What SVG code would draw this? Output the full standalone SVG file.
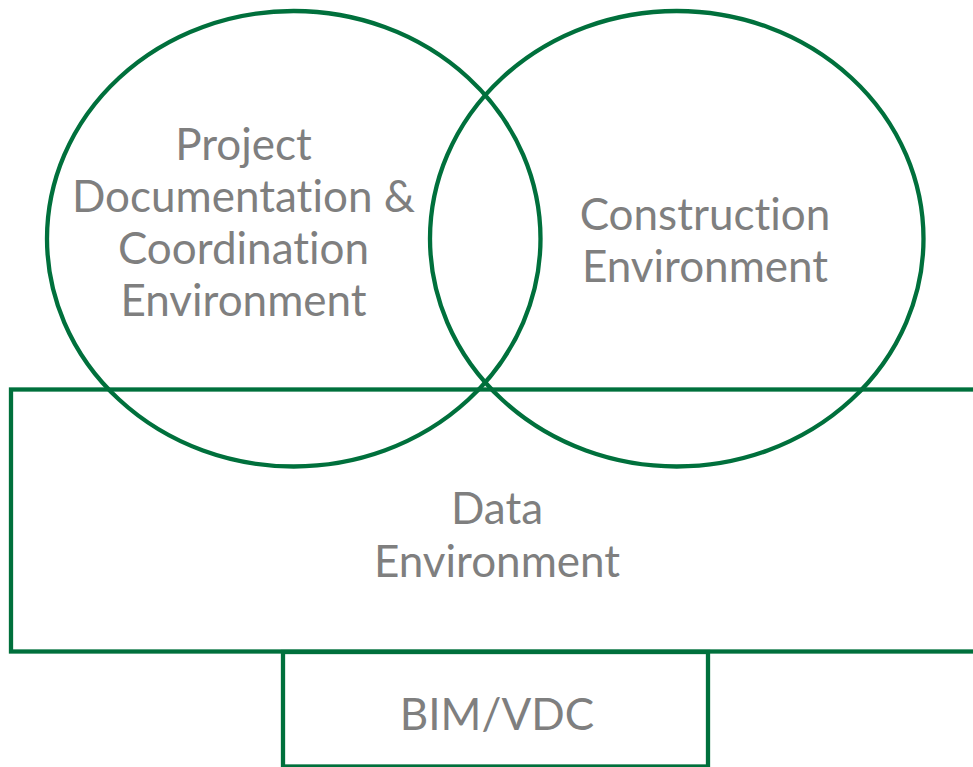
<svg xmlns="http://www.w3.org/2000/svg" width="973" height="767" viewBox="0 0 973 767">
<style>
.shape{fill:none;stroke:#00703c;stroke-width:4.3}
.lbl{font-family:Lato,"Liberation Sans",sans-serif;font-size:44px;fill:#7f7f7f;text-anchor:middle;font-variant-ligatures:none;font-feature-settings:"liga" 0}
</style>
<rect width="973" height="767" fill="#fff"/>
<g id="project-doc">
<ellipse class="shape" cx="293.75" cy="238.75" rx="246.75" ry="227.75"/>
<text class="lbl" x="243.5"><tspan x="243.5" y="160">Project</tspan><tspan x="243.5" y="212">Documentation &amp;</tspan><tspan x="243.5" y="264">Coordination</tspan><tspan x="243.5" y="316">Environment</tspan></text>
</g>
<g id="construction">
<ellipse class="shape" cx="676.75" cy="238.75" rx="246.75" ry="227.75"/>
<text class="lbl"><tspan x="705" y="230">Construction</tspan><tspan x="705" y="282">Environment</tspan></text>
</g>
<g id="data">
<rect class="shape" x="11" y="389.5" width="980" height="262"/>
<text class="lbl"><tspan x="497" y="524">Data</tspan><tspan x="497" y="577">Environment</tspan></text>
</g>
<g id="bim">
<rect class="shape" x="283" y="652" width="425" height="114.5"/>
<text class="lbl" x="497" y="730">BIM/VDC</text>
</g>
<g id="connectors"></g>
</svg>
